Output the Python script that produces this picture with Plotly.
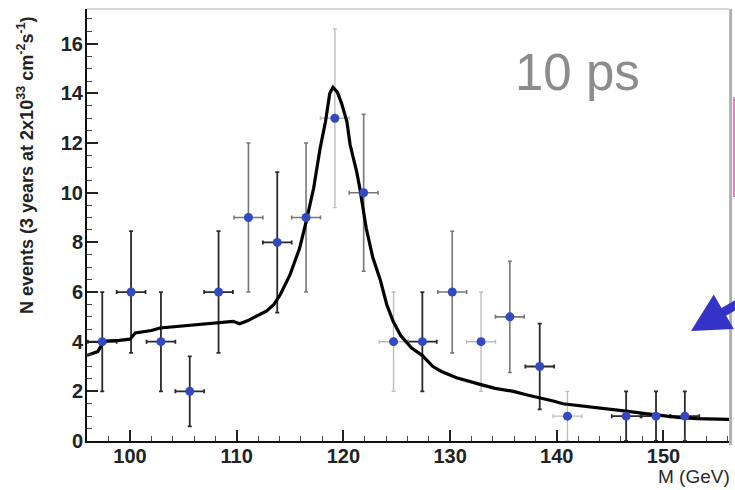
import plotly.graph_objects as go
import numpy as np

# ---- data ----
mass = [97.4, 100.1, 102.9, 105.6, 108.3, 111.1, 113.8, 116.5, 119.2, 121.9,
        124.7, 127.4, 130.2, 132.9, 135.6, 138.4, 141.0, 146.5, 149.3, 152.0]
events = [4, 6, 4, 2, 6, 9, 8, 9, 13, 10, 4, 4, 6, 4, 5, 3, 1, 1, 1, 1]
err_y = [2.0, 2.45, 2.0, 1.41, 2.45, 3.0, 2.83, 3.0, 3.6, 3.16,
         2.0, 2.0, 2.45, 2.0, 2.24, 1.73, 1.0, 1.0, 1.0, 1.0]
half_bin = [1.35] * len(mass)
# error-bar shade group per point: 0 dark, 1 mid grey, 2 light grey
shade = [0, 0, 0, 0, 0, 1, 0, 1, 2, 1, 2, 0, 1, 2, 1, 0, 2, 0, 0, 0]

curve_x = [95.97, 96.27, 96.98, 97.38, 97.79, 98.99, 100.0, 100.5, 102.01, 102.82, 104.03,
           105.64, 107.05, 108.15, 109.66, 110.27, 111.07, 111.58, 112.78, 113.49, 114.09,
           115.0, 115.9, 116.51, 117.21, 117.82, 118.32, 118.72, 119.02, 119.43, 119.83,
           120.33, 120.63, 121.24, 121.54, 122.14, 122.75, 123.45, 124.06, 124.66, 125.37,
           126.37, 127.38, 128.39, 129.19, 130.6, 131.71, 132.81, 134.22, 135.93, 137.24,
           138.45, 139.76, 140.56, 142.28, 143.68, 145.3, 146.5, 148.31, 150.03, 151.33,
           153.15, 156.14]
curve_y = [3.45, 3.5, 3.6, 3.9, 4.02, 4.05, 4.1, 4.35, 4.45, 4.55, 4.6,
           4.66, 4.72, 4.76, 4.82, 4.72, 4.85, 4.97, 5.23, 5.5, 5.9,
           6.7, 7.77, 8.84, 10.18, 11.79, 12.86, 14.0, 14.25, 14.05, 13.6,
           12.86, 11.93, 10.85, 10.18, 8.57, 7.4, 6.5, 5.5, 4.82, 4.25,
           3.75, 3.45, 3.0, 2.8, 2.55, 2.4, 2.28, 2.12, 2.0, 1.85,
           1.74, 1.6, 1.5, 1.42, 1.34, 1.27, 1.2, 1.1, 1.0, 0.95,
           0.9, 0.87]

x_ticks = [100, 110, 120, 130, 140, 150]
y_ticks = [0, 2, 4, 6, 8, 10, 12, 14, 16]

# ---- layout geometry ----
W, H = 735, 490
ML, MR, MT, MB = 87, 6, 9, 49
PW, PH = W - ML - MR, H - MT - MB


def px2paper(px, py):
    return (px - ML) / PW, (H - MB - py) / PH


fig = go.Figure()

shade_cols = ["#2a2a2a", "#777777", "#bdbdbd"]
shade_w = [1.8, 1.6, 1.4]
for g in range(3):
    idx = [i for i, s in enumerate(shade) if s == g]
    fig.add_trace(go.Scatter(
        x=[mass[i] for i in idx], y=[events[i] for i in idx], mode="markers",
        marker=dict(size=0.1, color="rgba(0,0,0,0)"),
        error_y=dict(type="data", array=[err_y[i] for i in idx], color=shade_cols[g],
                     thickness=shade_w[g], width=2),
        error_x=dict(type="data", array=[half_bin[i] for i in idx], color=shade_cols[g],
                     thickness=shade_w[g], width=2),
        showlegend=False, hoverinfo="skip"))

fig.add_trace(go.Scatter(x=curve_x, y=curve_y, mode="lines",
                         line=dict(color="black", width=3.2), showlegend=False))

fig.add_trace(go.Scatter(x=mass, y=events, mode="markers",
                         marker=dict(size=9, color="#3349c2"), showlegend=False))

# frame (top, right), pink line, arrow
shapes = [
    dict(type="line", xref="paper", yref="paper", x0=0, x1=1, y0=1, y1=1,
         line=dict(color="#c8c8c8", width=1.5)),
    dict(type="line", xref="paper", yref="paper", x0=1.0025, x1=1.0025, y0=-0.01, y1=1.0,
         line=dict(color="#b0b0b0", width=3)),
]
pa = px2paper(734, 97)
pb = px2paper(734, 197)
shapes.append(dict(type="line", xref="paper", yref="paper", x0=pa[0], x1=pb[0], y0=pa[1], y1=pb[1],
                   line=dict(color="#ff70c8", width=2)))

tip = np.array([691.0, 331.0])
tail = np.array([775.0, 282.0])
d = (tail - tip) / np.linalg.norm(tail - tip)
n = np.array([-d[1], d[0]])
L, HW, SW = 38, 20, 4.5
base = tip + L * d
pts = [tip, base + HW * n, base + SW * n, tail + SW * n, tail - SW * n, base - SW * n, base - HW * n]
path = "M " + " L ".join("{:.4f},{:.4f}".format(*px2paper(*p)) for p in pts) + " Z"
shapes.append(dict(type="path", xref="paper", yref="paper", path=path,
                   fillcolor="#3333c8", line=dict(width=0)))

font_fam = "Liberation Sans, Arial, sans-serif"
tx, ty = px2paper(577, 72)
yt_x, yt_y = px2paper(25, 165)
mx, my = px2paper(732, 477)
annotations = [
    dict(text="10 ps", xref="paper", yref="paper", x=tx, y=ty, xanchor="center", yanchor="middle",
         showarrow=False, font=dict(family=font_fam, size=51, color="#8c8c8c")),
    dict(text="N events (3 years at 2x10<sup>33</sup> cm<sup>-2</sup>s<sup>-1</sup>)",
         xref="paper", yref="paper", x=yt_x, y=yt_y, xanchor="center", yanchor="middle",
         textangle=-90, showarrow=False,
         font=dict(family=font_fam, size=18, color="#222222", weight="bold")),
    dict(text="M (GeV)", xref="paper", yref="paper", x=mx, y=my, xanchor="right", yanchor="middle",
         showarrow=False, font=dict(family=font_fam, size=19, color="#2a2a2a")),
]

fig.update_layout(
    width=W, height=H, margin=dict(l=ML, r=MR, t=MT, b=MB),
    paper_bgcolor="white", plot_bgcolor="white",
    shapes=shapes, annotations=annotations,
    xaxis=dict(range=[95.97, 156.14], tickvals=x_ticks, ticks="inside", ticklen=11, tickwidth=1.5,
               tickcolor="#222", showline=True, linecolor="#111", linewidth=2, showgrid=False,
               zeroline=False, ticklabelstandoff=-4,
               minor=dict(dtick=2, tick0=100, ticks="inside", ticklen=5, tickcolor="#444", tickwidth=1.2),
               tickfont=dict(family=font_fam, size=20, color="#222", weight="bold")),
    yaxis=dict(range=[0, 17.4], tickvals=y_ticks, ticks="inside", ticklen=11, tickwidth=1.5,
               tickcolor="#222", showline=True, linecolor="#111", linewidth=2, showgrid=False,
               zeroline=False, ticklabelstandoff=-2,
               minor=dict(dtick=0.5, tick0=0, ticks="inside", ticklen=5, tickcolor="#444", tickwidth=1.2),
               tickfont=dict(family=font_fam, size=20, color="#222", weight="bold")),
)

fig.write_html("out.html", config={"displayModeBar": False},
               post_script="document.body.style.margin='0';document.body.style.overflow='hidden';")
